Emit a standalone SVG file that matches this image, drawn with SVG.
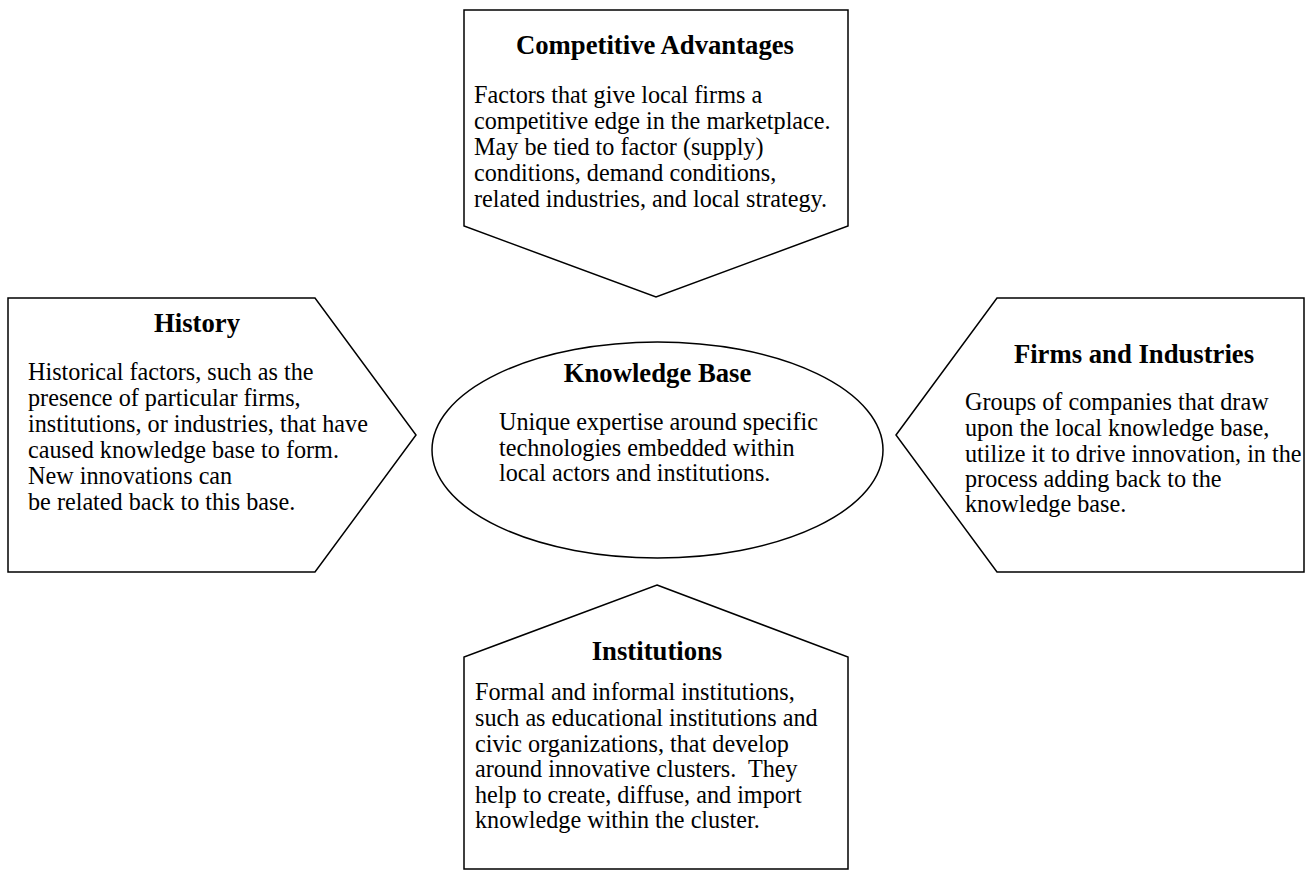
<svg xmlns="http://www.w3.org/2000/svg" width="1314" height="872" viewBox="0 0 1314 872">
<style>
.shape{fill:#fff;stroke:#000;stroke-width:1.5}
.t{font-family:"Liberation Serif","Times New Roman",serif;font-size:24.2px;fill:#000}
.h{font-family:"Liberation Serif","Times New Roman",serif;font-size:26.7px;font-weight:bold;fill:#000;text-anchor:middle}
</style>
<rect width="1314" height="872" fill="#fff"/>
<g id="connectors"></g>
<g id="competitive-advantages">
<polygon class="shape" points="464,10 848,10 848,226 656,297 464,226"/>
<text class="h" x="655" y="54">Competitive Advantages</text>
<text class="t" x="474" y="103">Factors that give local firms a</text>
<text class="t" x="474" y="129">competitive edge in the marketplace.</text>
<text class="t" x="474" y="155">May be tied to factor (supply)</text>
<text class="t" x="474" y="181">conditions, demand conditions,</text>
<text class="t" x="474" y="207">related industries, and local strategy.</text>
</g>
<g id="history">
<polygon class="shape" points="8,298 315,298 416,435 315,572 8,572"/>
<text class="h" x="197" y="332">History</text>
<text class="t" x="28" y="380">Historical factors, such as the</text>
<text class="t" x="28" y="406">presence of particular firms,</text>
<text class="t" x="28" y="432">institutions, or industries, that have</text>
<text class="t" x="28" y="458">caused knowledge base to form.</text>
<text class="t" x="28" y="484">New innovations can</text>
<text class="t" x="28" y="510">be related back to this base.</text>
</g>
<g id="firms-and-industries">
<polygon class="shape" points="896,435 997,298 1304,298 1304,572 997,572"/>
<text class="h" x="1134" y="363">Firms and Industries</text>
<text class="t" x="965" y="410">Groups of companies that draw</text>
<text class="t" x="965" y="436">upon the local knowledge base,</text>
<text class="t" x="965" y="462">utilize it to drive innovation, in the</text>
<text class="t" x="965" y="487">process adding back to the</text>
<text class="t" x="965" y="512">knowledge base.</text>
</g>
<g id="institutions">
<polygon class="shape" points="657,585 848,657 848,869 464,869 464,657"/>
<text class="h" x="657" y="660">Institutions</text>
<text class="t" x="475" y="700">Formal and informal institutions,</text>
<text class="t" x="475" y="726">such as educational institutions and</text>
<text class="t" x="475" y="752">civic organizations, that develop</text>
<text class="t" x="475" y="777" xml:space="preserve">around innovative clusters.  They</text>
<text class="t" x="475" y="803">help to create, diffuse, and import</text>
<text class="t" x="475" y="828">knowledge within the cluster.</text>
</g>
<g id="knowledge-base">
<ellipse class="shape" cx="657.5" cy="450" rx="225.5" ry="108"/>
<text class="h" x="657.5" y="382">Knowledge Base</text>
<text class="t" x="499" y="430">Unique expertise around specific</text>
<text class="t" x="499" y="455.5">technologies embedded within</text>
<text class="t" x="499" y="481">local actors and institutions.</text>
</g>
</svg>
